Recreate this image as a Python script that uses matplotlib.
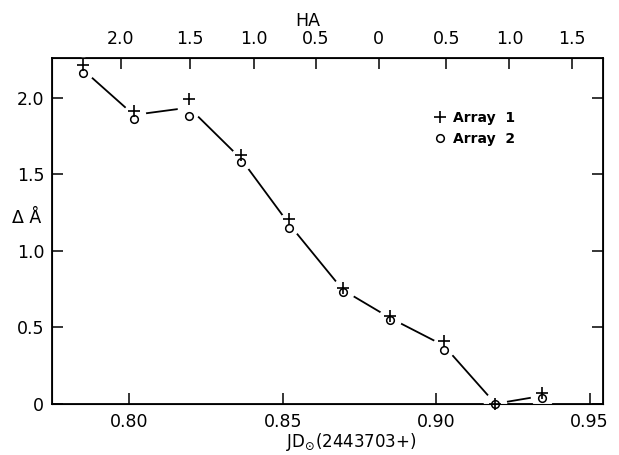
import matplotlib
matplotlib.use("Agg")
import matplotlib.pyplot as plt
import numpy as np

# Data
jd = [0.7847, 0.8014, 0.8194, 0.8363, 0.8519, 0.8696, 0.8850, 0.9025, 0.9193, 0.9346]
array1 = [2.21, 1.915, 1.99, 1.625, 1.205, 0.758, 0.575, 0.41, 0.0, 0.068]
array2 = [2.16, 1.859, 1.88, 1.578, 1.150, 0.728, 0.545, 0.35, 0.0, 0.035]

x_ticks = [0.80, 0.85, 0.90, 0.95]
x_ticklabels = ["0.80", "0.85", "0.90", "0.95"]
y_ticks = [0, 0.5, 1.0, 1.5, 2.0]
y_ticklabels = ["0", "0.5", "1.0", "1.5", "2.0"]
ha_tick_jd = [0.7971, 0.8196, 0.8405, 0.8607, 0.8812, 0.9033, 0.9239, 0.9444]
ha_ticklabels = ["2.0", "1.5", "1.0", "0.5", "0", "0.5", "1.0", "1.5"]

plt.rcParams['font.family'] = ['DejaVu Sans']
fig = plt.figure(figsize=(6.19, 4.55), dpi=100)
ax = fig.add_axes([0.0848, 0.1127, 0.8899, 0.7605])

ax.set_xlim(0.7749, 0.9545)
ax.set_ylim(0, 2.261)

mean = (np.array(array1) + np.array(array2)) / 2
# connecting line with gaps around the points
ax.plot(jd, mean, color='black', lw=1.3, zorder=3, clip_on=False,
        marker='o', markersize=16, markerfacecolor='white', markeredgecolor='white')
ax.plot(jd, array1, linestyle='none', marker='+', markersize=8, mew=1.2,
        color='black', zorder=5, clip_on=False, label='Array  1')
ax.plot(jd, array2, linestyle='none', marker='o', markersize=5.5, mew=1.1,
        markerfacecolor='none', markeredgecolor='black', zorder=5, clip_on=False,
        label='Array  2')

for s in ax.spines.values():
    s.set_linewidth(1.3)

ax.set_xticks(x_ticks)
ax.set_xticklabels(x_ticklabels)
ax.set_yticks(y_ticks)
ax.set_yticklabels(y_ticklabels)
ax.tick_params(direction='in', length=8, width=1.1, labelsize=12.5, pad=6,
               right=True, top=False)
ax.tick_params(axis='x', pad=7)

ax2 = ax.twiny()
ax2.set_xlim(ax.get_xlim())
ax2.set_xticks(ha_tick_jd)
ax2.set_xticklabels(ha_ticklabels)
ax2.tick_params(direction='in', length=8, width=1.1, labelsize=12.5, pad=7)
ax2.set_xlabel("HA", fontsize=12.5, labelpad=3, x=0.464)

fig.text(0.567, 0.004, r"JD$_{\odot}$(2443703+)", fontsize=12, ha='center', va='bottom')
fig.text(0.02, 0.51, "Δ Å", fontsize=12.5, ha='left', va='baseline')

leg = ax.legend(loc='upper left', bbox_to_anchor=(0.68, 0.865), frameon=False,
                handlelength=0.8, handletextpad=0.6, borderpad=0, labelspacing=0.45,
                prop={'size': 10, 'weight': 'semibold'})

fig.savefig("out.png", dpi=100)
